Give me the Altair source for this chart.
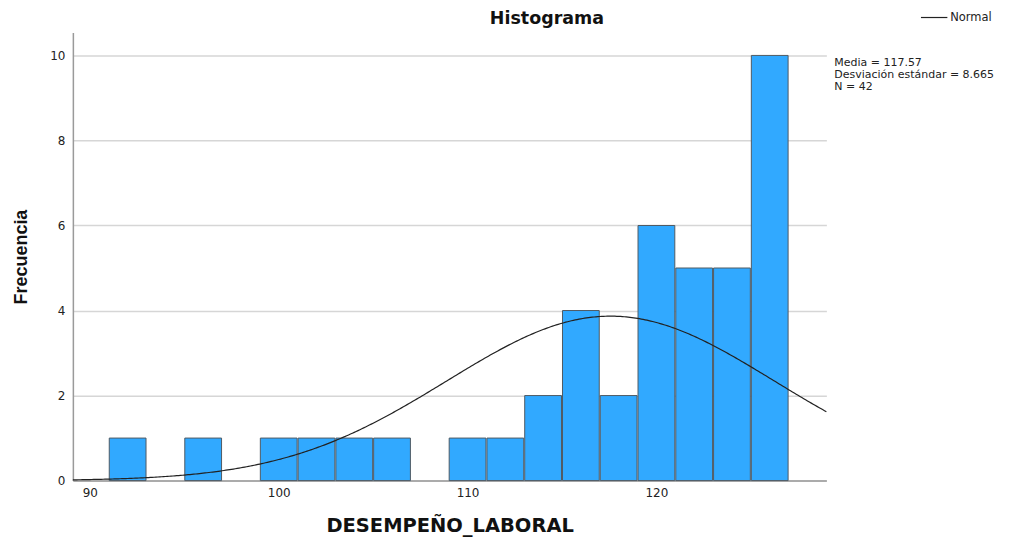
import altair as alt
import pandas as pd

# ---- data ----
bin_start = [91, 95, 99, 101, 103, 105, 109, 111, 113, 115, 117, 119, 121, 123, 125]
counts = [1, 1, 1, 1, 1, 1, 1, 1, 2, 4, 2, 6, 5, 5, 10]
bin_width = 2
media = 117.57
desv = 8.665
n_total = 42
x_domain = [89.1, 129.0]
y_domain = [0, 10.54]
x_ticks = [90, 100, 110, 120]
y_ticks = [0, 2, 4, 6, 8, 10]
stats_lines = ["Media = 117.57", "Desviación estándar = 8.665", "N = 42"]
chart_title = "Histograma"

bars_df = pd.DataFrame({
    "inicio": bin_start,
    "fin": [b + bin_width for b in bin_start],
    "frecuencia": counts,
})

FONT = "DejaVu Sans"

x_scale = alt.Scale(domain=x_domain, nice=False, zero=False)
y_scale = alt.Scale(domain=y_domain, nice=False)

x_axis = alt.Axis(
    title="DESEMPEÑO_LABORAL", values=x_ticks, format="d", grid=False,
    tickSize=0, labelPadding=7, labelFont=FONT, labelFontSize=12,
    labelColor="#222", labelFlush=False, domainColor="#9a9a9a", domainWidth=1.5,
    titleFont=FONT, titleFontSize=19.5, titleFontWeight="bold",
    titleColor="#111", titlePadding=18,
)
y_axis = alt.Axis(
    title="Frecuencia", values=y_ticks, format="d", grid=True,
    gridColor="#d6d6d6", gridWidth=1.5, tickSize=0, labelPadding=8,
    labelFont=FONT, labelFontSize=12, labelColor="#222", labelFlush=False,
    domainColor="#9a9a9a", domainWidth=1.5,
    titleFont="Liberation Sans", titleFontSize=18, titleFontWeight="bold",
    titleColor="#111", titlePadding=19,
)

bars = alt.Chart(bars_df).mark_bar(
    color="#31A9FF", stroke="#4f5a63", strokeWidth=1, xOffset=0.5, x2Offset=-0.5
).encode(
    x=alt.X("inicio:Q", scale=x_scale, axis=x_axis),
    x2="fin:Q",
    y=alt.Y("frecuencia:Q", scale=y_scale, axis=y_axis),
    y2=alt.datum(0),
)

curve = alt.Chart(alt.sequence(x_domain[0], x_domain[1] + 0.05, 0.1, as_="x")).transform_calculate(
    y=f"{n_total}*{bin_width}*exp(-0.5*pow((datum.x-{media})/{desv},2))/({desv}*sqrt(2*PI))",
    serie="'Normal'",
).mark_line(strokeWidth=1.2).encode(
    x=alt.X("x:Q", scale=x_scale),
    y=alt.Y("y:Q", scale=y_scale),
    color=alt.Color(
        "serie:N",
        scale=alt.Scale(range=["#222222"]),
        legend=alt.Legend(
            title=None, orient="none", legendX=849, legendY=-29,
            symbolType="stroke", symbolSize=700, symbolStrokeWidth=1.2,
            labelFont=FONT, labelFontSize=11.5, labelColor="#222",
            labelOffset=2, padding=0,
        ),
    ),
)

stats = alt.Chart(pd.DataFrame({"t": [0]})).mark_text(
    align="left", baseline="alphabetic", font=FONT, fontSize=11,
    lineHeight=12, color="#222",
).encode(
    x=alt.value(763), y=alt.value(34), text=alt.value(stats_lines),
)

title = alt.Chart(pd.DataFrame({"t": [0]})).mark_text(
    align="center", baseline="alphabetic", font=FONT, fontSize=17.5,
    fontWeight="bold", color="#111",
).encode(
    x=alt.value(475), y=alt.value(-8), text=alt.value(chart_title),
)

chart = alt.layer(bars, curve, stats, title).properties(
    width=755, height=449,
    autosize=alt.AutoSizeParams(type="none"),
    padding={"left": 65, "top": 24, "right": 190, "bottom": 58},
).configure_view(stroke=None)

chart.save("out.html", embed_options={"renderer": "svg", "actions": False})
